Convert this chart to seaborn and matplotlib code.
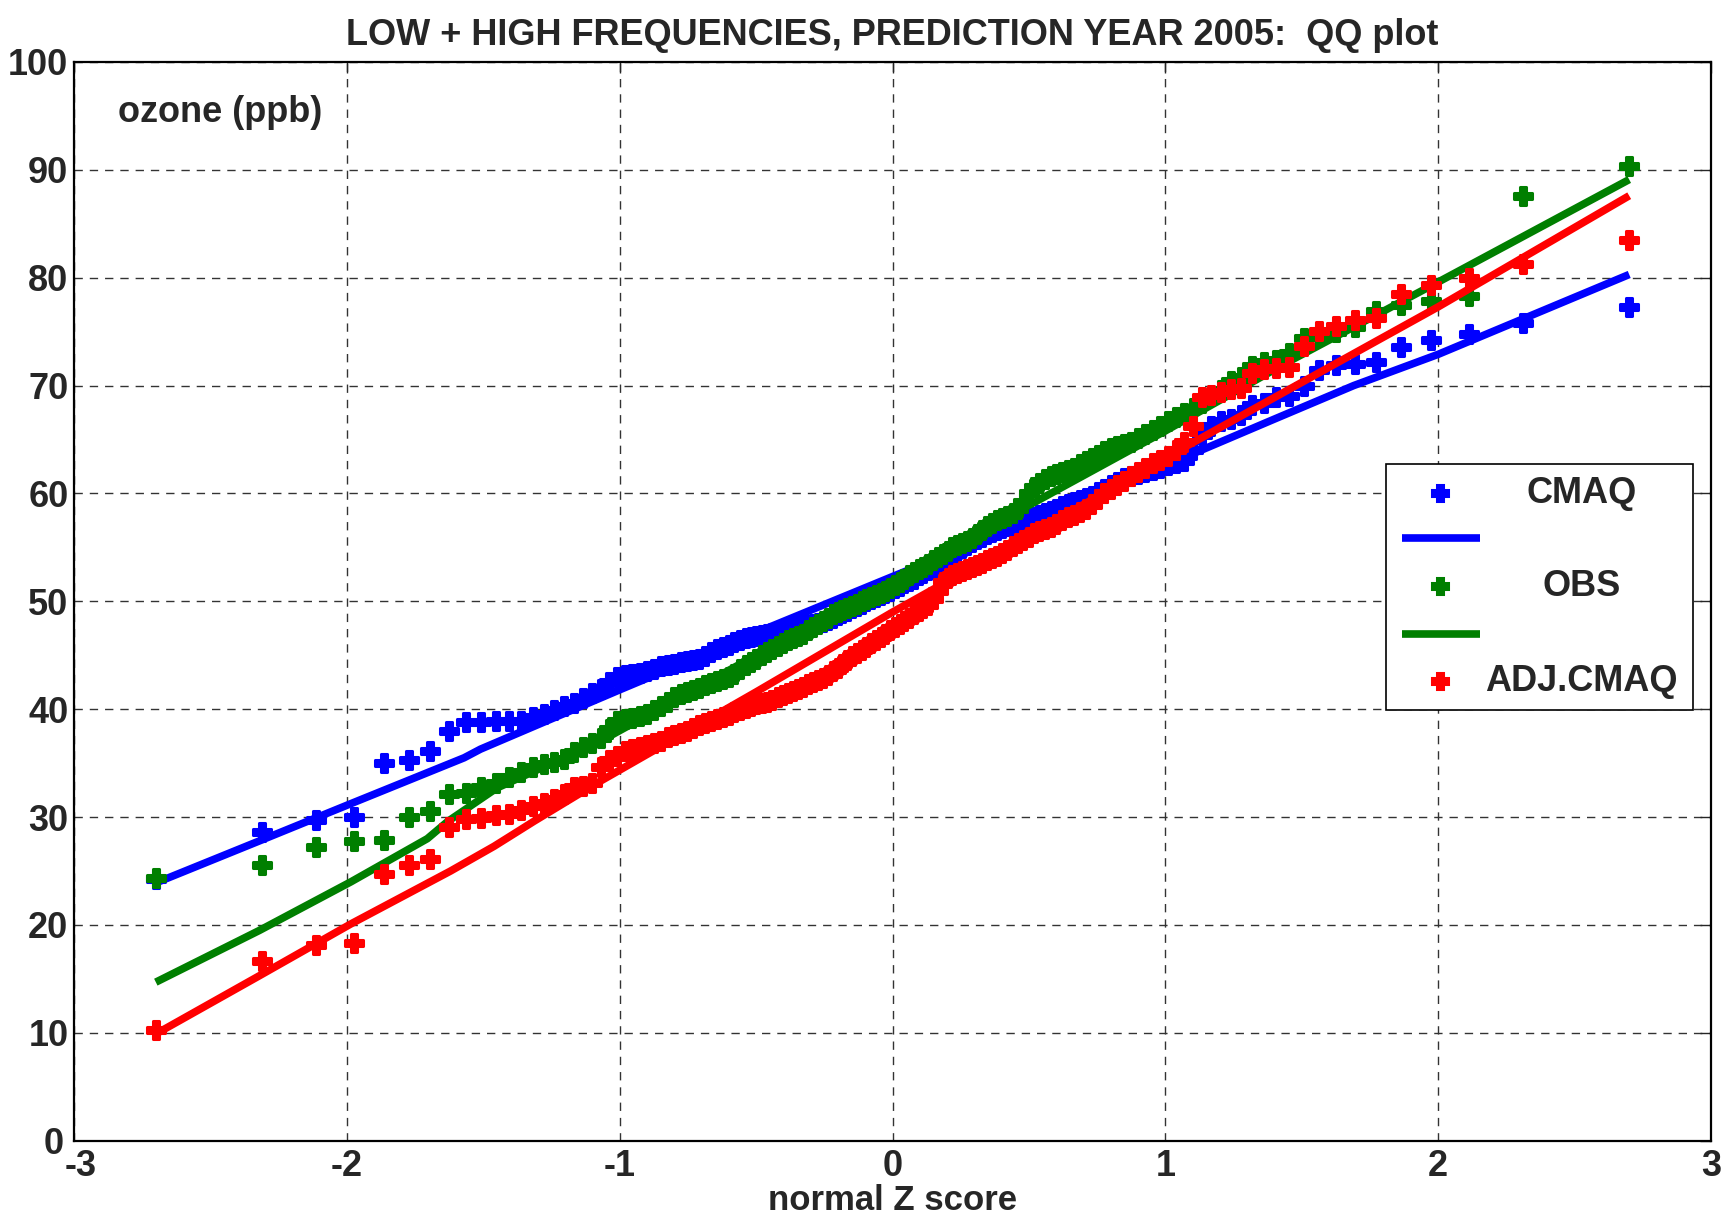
import numpy as np
import matplotlib
matplotlib.use("Agg")
import matplotlib.pyplot as plt
import seaborn as sns
from matplotlib.patches import Rectangle
from matplotlib.transforms import ScaledTranslation
from statistics import NormalDist

# sorted ozone values (ppb), 144 per series
cmaq = [
    24.3, 28.6, 29.7, 30.0, 35.0, 35.3, 36.1, 38.0, 38.8, 38.8,
    38.9, 38.9, 38.9, 39.3, 39.6, 39.9, 40.3, 40.6, 41.0, 41.5,
    41.9, 42.5, 43.0, 43.2, 43.3, 43.4, 43.5, 43.7, 44.0, 44.1,
    44.2, 44.4, 44.5, 44.6, 44.7, 44.9, 45.3, 45.6, 45.8, 46.0,
    46.2, 46.4, 46.6, 46.7, 46.8, 46.9, 47.0, 47.1, 47.2, 47.3,
    47.4, 47.5, 47.6, 47.7, 47.8, 47.9, 48.0, 48.1, 48.3, 48.5,
    48.7, 48.9, 49.1, 49.4, 49.6, 49.8, 50.0, 50.2, 50.4, 50.6,
    50.8, 51.0, 51.2, 51.4, 51.7, 51.9, 52.1, 52.4, 52.6, 52.9,
    53.1, 53.4, 53.7, 54.0, 54.3, 54.6, 54.9, 55.2, 55.5, 55.8,
    56.0, 56.2, 56.4, 56.6, 56.8, 57.0, 57.1, 57.3, 57.4, 57.6,
    57.8, 58.0, 58.2, 58.4, 58.6, 58.8, 59.0, 59.2, 59.4, 59.6,
    59.8, 60.1, 60.4, 60.8, 61.1, 61.4, 61.6, 61.8, 62.0, 62.2,
    62.4, 62.6, 62.8, 63.0, 64.0, 65.4, 66.3, 66.7, 66.9, 67.3,
    68.2, 68.4, 68.9, 69.0, 70.0, 71.4, 71.9, 72.0, 72.2, 73.6,
    74.2, 74.8, 75.8, 77.3]

obs = [
    24.4, 25.6, 27.2, 27.8, 27.9, 30.0, 30.6, 32.1, 32.2, 32.8,
    33.2, 33.7, 34.2, 34.6, 34.9, 35.1, 35.4, 36.0, 36.5, 36.9,
    37.3, 38.2, 38.9, 39.1, 39.2, 39.4, 39.6, 39.9, 40.3, 40.7,
    41.1, 41.4, 41.6, 41.8, 42.0, 42.2, 42.4, 42.6, 42.8, 43.0,
    43.3, 43.7, 44.1, 44.4, 44.7, 45.0, 45.3, 45.6, 45.9, 46.1,
    46.4, 46.6, 46.8, 47.0, 47.3, 47.6, 47.9, 48.2, 48.5, 48.8,
    49.0, 49.2, 49.4, 49.6, 49.8, 50.0, 50.2, 50.4, 50.6, 50.8,
    51.0, 51.2, 51.5, 51.8, 52.1, 52.4, 52.7, 53.0, 53.2, 53.5,
    53.8, 54.1, 54.4, 54.7, 55.0, 55.2, 55.4, 55.6, 55.9, 56.2,
    56.6, 57.0, 57.3, 57.5, 57.7, 57.9, 58.2, 58.6, 59.2, 60.0,
    60.6, 61.0, 61.3, 61.6, 61.8, 62.0, 62.2, 62.4, 62.7, 63.0,
    63.3, 63.6, 63.9, 64.2, 64.4, 64.6, 64.8, 65.1, 65.5, 65.9,
    66.3, 66.7, 67.1, 67.5, 67.9, 68.4, 69.0, 69.6, 70.4, 70.8,
    71.8, 72.2, 72.4, 73.0, 74.4, 74.8, 75.0, 75.4, 76.9, 77.5,
    77.8, 78.3, 87.6, 90.4]

adj_cmaq = [
    10.3, 16.7, 18.1, 18.3, 24.7, 25.6, 26.1, 29.1, 29.8, 29.9,
    30.2, 30.3, 30.7, 31.0, 31.3, 31.7, 32.1, 32.8, 32.9, 33.2,
    34.6, 35.3, 35.7, 36.1, 36.3, 36.5, 36.7, 36.9, 37.1, 37.4,
    37.6, 37.8, 38.0, 38.3, 38.5, 38.7, 38.9, 39.1, 39.3, 39.5,
    39.7, 39.9, 40.1, 40.3, 40.5, 40.6, 40.7, 40.9, 41.1, 41.3,
    41.5, 41.7, 41.9, 42.1, 42.3, 42.5, 42.7, 42.9, 43.2, 43.5,
    43.8, 44.2, 44.6, 44.9, 45.2, 45.5, 45.8, 46.1, 46.4, 46.7,
    47.0, 47.3, 47.6, 47.9, 48.2, 48.5, 48.8, 49.1, 49.4, 49.7,
    50.2, 51.0, 51.8, 52.2, 52.4, 52.6, 52.8, 53.0, 53.2, 53.4,
    53.6, 53.8, 54.0, 54.2, 54.5, 54.8, 55.1, 55.4, 55.7, 56.0,
    56.3, 56.5, 56.7, 56.9, 57.2, 57.5, 57.8, 58.0, 58.3, 58.6,
    59.0, 59.5, 60.0, 60.4, 60.8, 61.2, 61.6, 62.0, 62.4, 62.8,
    63.1, 63.5, 64.0, 64.8, 66.3, 68.9, 69.1, 69.4, 69.7, 69.8,
    71.2, 71.5, 71.6, 71.7, 73.7, 75.1, 75.5, 76.1, 76.3, 78.5,
    79.3, 80.0, 81.3, 83.5]

# reference lines (z, ozone) vertices
cmaq_line_z = [-2.70, -2.31, -1.98, -1.57, -1.51, -1.0, -0.5, 0.0, 0.5, 1.0, 1.4, 1.69, 2.0, 2.70]
cmaq_line_v = [23.9, 27.9, 31.3, 35.5, 36.3, 41.8, 47.1, 52.3, 57.4, 62.6, 66.9, 70.0, 72.9, 80.3]
obs_line_z = [-2.70, -2.32, -1.985, -1.705, -1.63, -1.45, -1.08, -0.5, 0.0, 0.5, 1.0, 1.45, 2.0, 2.70]
obs_line_v = [14.7, 19.5, 24.0, 28.0, 29.6, 32.7, 36.9, 45.0, 51.9, 58.9, 65.8, 72.2, 79.6, 89.1]
adj_line_z = [-2.70, -2.32, -1.985, -1.62, -1.46, -1.315, -1.08, -0.5, 0.0, 0.5, 1.0, 1.4, 2.0, 2.70]
adj_line_v = [9.9, 15.3, 20.1, 25.0, 27.3, 29.6, 33.2, 41.6, 49.0, 56.1, 63.3, 68.9, 77.3, 87.6]

labels = ["CMAQ", "OBS", "ADJ.CMAQ"]
colors = ["#0000ff", "#007f00", "#ff0000"]

# normal quantiles (i - 0.5) / n for the QQ x axis
n = len(cmaq)
nd = NormalDist()
zq = [nd.inv_cdf((i - 0.5) / n) for i in range(1, n + 1)]

sns.set_style("white")
plt.rcParams["font.family"] = ["Liberation Sans", "DejaVu Sans"]
plt.rcParams["font.weight"] = "bold"
plt.rcParams["axes.unicode_minus"] = False
FS = 26

fig = plt.figure(figsize=(17.28, 12.27), dpi=100)
ax = fig.add_axes([0.0428, 0.0703, 0.9474, 0.8792])

series = [(cmaq, cmaq_line_z, cmaq_line_v), (obs, obs_line_z, obs_line_v),
          (adj_cmaq, adj_line_z, adj_line_v)]
for (vals, lz, lv), c in zip(series, colors):
    sns.scatterplot(x=zq, y=vals, ax=ax, marker="P", s=150, color=c,
                    edgecolor=c, linewidth=2.2, zorder=3)
    sns.lineplot(x=lz, y=lv, ax=ax, color=c, lw=5.5, estimator=None, sort=False,
                 zorder=3, solid_capstyle="butt")

ax.set_xlim(-3, 3)
ax.set_ylim(0, 100)
ax.set_xticks(range(-3, 4))
ax.set_yticks(range(0, 101, 10))
ax.grid(True, color="0.2", linestyle=(0, (6, 5)), linewidth=1)
ax.set_axisbelow(True)
for s in ax.spines.values():
    s.set_visible(True)
    s.set_color("black")
    s.set_linewidth(1.6)
ax.tick_params(direction="in", length=8, width=1, labelsize=FS,
               top=True, right=True)
ax.tick_params(axis="x", pad=6)
ax.tick_params(axis="y", pad=4)
for t in ax.get_xticklabels() + ax.get_yticklabels():
    t.set_fontweight("bold")

# the corner labels "0" and "-3" sit very close; nudge them apart a little
xl0 = ax.get_xticklabels()[0]
xl0.set_transform(xl0.get_transform() + ScaledTranslation(0.07, 0, fig.dpi_scale_trans))
yl0 = ax.get_yticklabels()[0]
yl0.set_transform(yl0.get_transform() + ScaledTranslation(-0.05, 0, fig.dpi_scale_trans))

ax.set_title("LOW + HIGH FREQUENCIES, PREDICTION YEAR 2005:  QQ plot",
             fontsize=FS, fontweight="bold", pad=12)
ax.set_xlabel("normal Z score", fontsize=25, fontweight="bold", labelpad=0)
ax.text(0.027, 0.953, "ozone (ppb)", transform=ax.transAxes, fontsize=FS,
        fontweight="bold", ha="left", va="center")

# legend drawn by hand in the MATLAB layout (marker, line, marker, line, marker)
ax.add_patch(Rectangle((0.8015, 0.399), 0.1875, 0.228, transform=ax.transAxes,
                       facecolor="white", edgecolor="black", lw=1.2, zorder=5))
mk_y = [0.600, 0.514, 0.426]
ln_y = [0.5586, 0.4696]
for i, c in enumerate(colors):
    ax.plot([0.8345], [mk_y[i]], marker="P", ms=12, color=c, mec=c, mew=2.2,
            transform=ax.transAxes, zorder=6, linestyle="none")
    ax.text(0.921, mk_y[i], labels[i], transform=ax.transAxes, fontsize=FS,
            fontweight="bold", ha="center", va="center", zorder=6)
    if i < 2:
        ax.plot([0.8112, 0.8589], [ln_y[i], ln_y[i]], color=c, lw=5.5,
                transform=ax.transAxes, zorder=6, solid_capstyle="butt")

fig.savefig("out.png", dpi=100)
